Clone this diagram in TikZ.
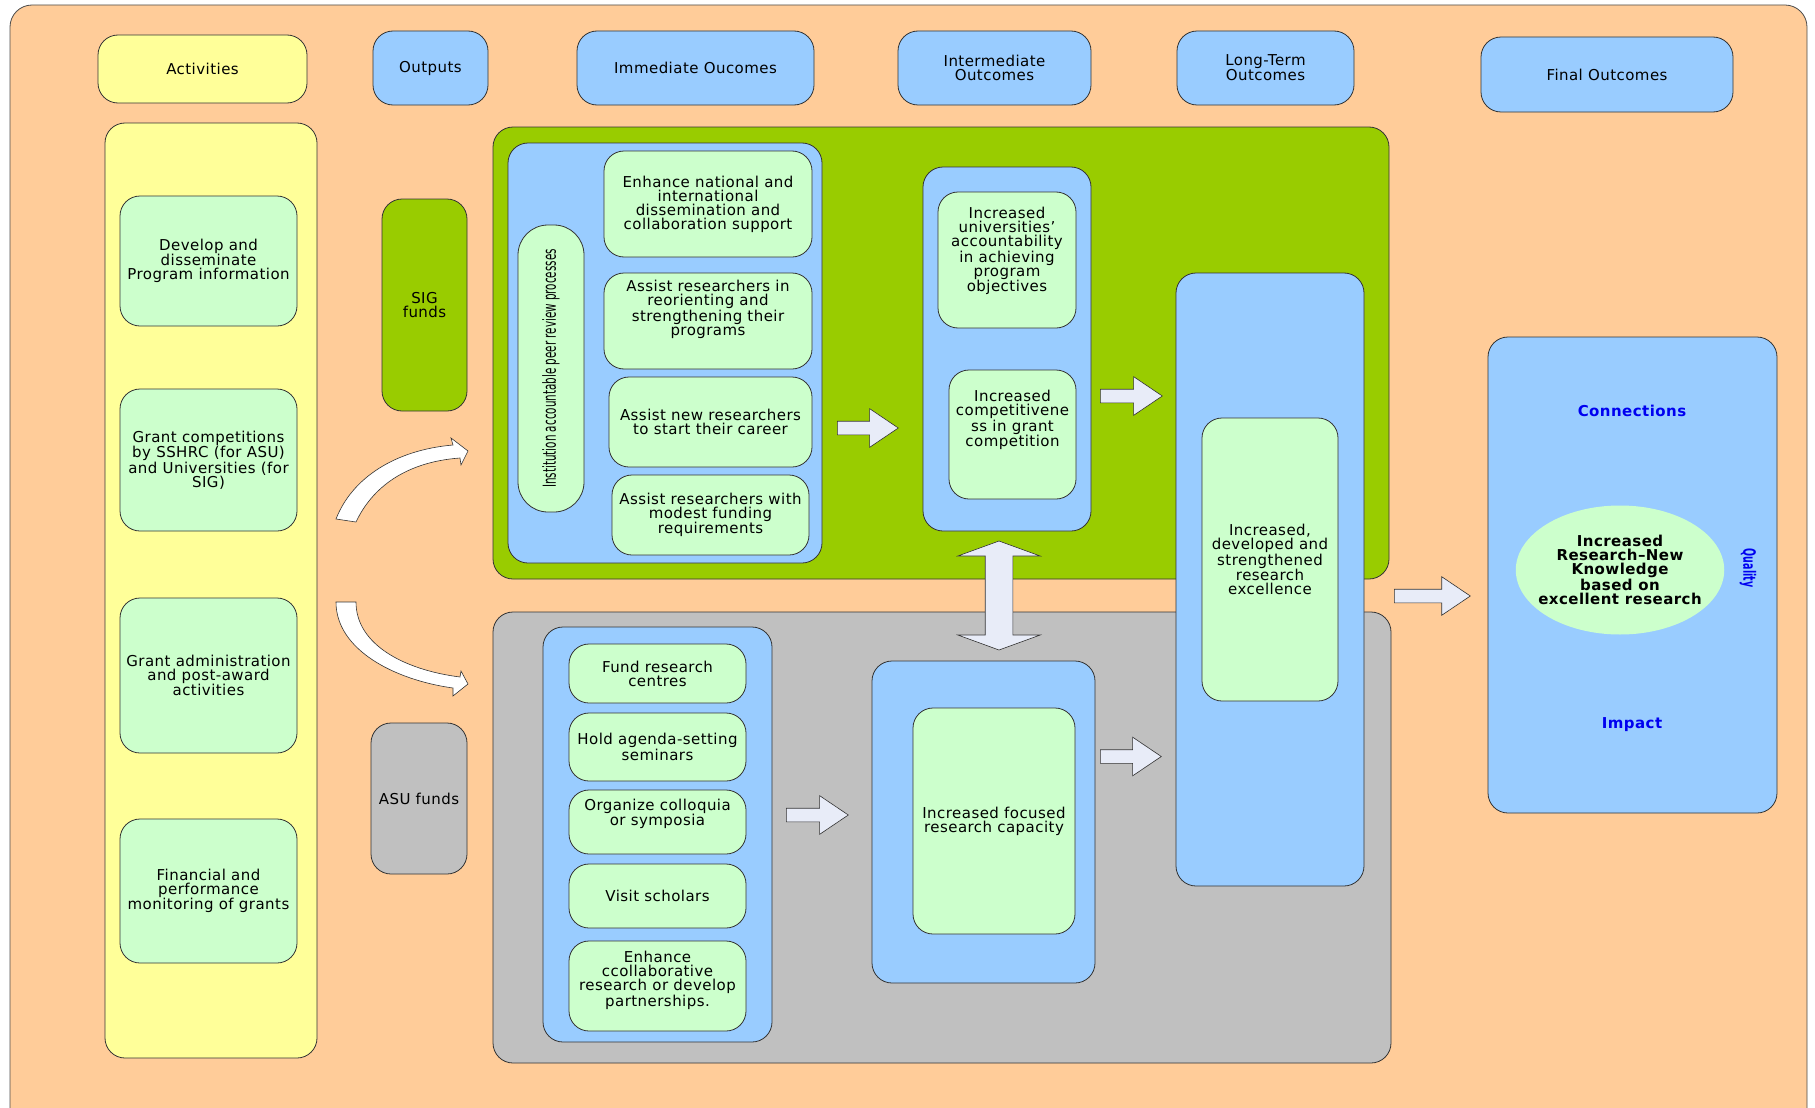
\documentclass[tikz,border=0pt]{standalone}
\usepackage{fontspec}
\setmainfont{DejaVu Sans}[LetterSpace=3]
\newfontfamily\condfont{DejaVu Sans Condensed}
\usetikzlibrary{shapes.geometric,shapes.arrows}

\definecolor{peach}{RGB}{255,204,153}
\definecolor{paleyellow}{RGB}{255,255,153}
\definecolor{palegreen}{RGB}{204,255,204}
\definecolor{skyblue}{RGB}{153,204,255}
\definecolor{sigcolor}{RGB}{153,204,0}
\definecolor{asucolor}{RGB}{192,192,192}
\definecolor{arrowfill}{RGB}{232,236,248}
\definecolor{labelblue}{RGB}{0,0,240}

\begin{document}
\begin{tikzpicture}[x=1pt, y=-1pt,
    every node/.style={font=\fontsize{15}{14}\selectfont, align=center},
    box/.style={draw=black!80, line width=0.8pt, rounded corners=20pt, inner sep=0pt},
    yellowbox/.style={box, fill=paleyellow},
    bluebox/.style={box, fill=skyblue},
    greenbox/.style={box, fill=palegreen},
    sigbox/.style={box, fill=sigcolor},
    asubox/.style={box, fill=asucolor},
    blockarrow/.style={single arrow, draw=black!80, line width=0.6pt, fill=arrowfill,
      minimum width=0pt, inner xsep=0pt, inner ysep=6.5pt,
      single arrow head extend=12.5pt, single arrow tip angle=68, anchor=tail},
    curvearrow/.style={draw=black!80, line width=0.6pt, fill=white},
    bluelabel/.style={text=labelblue, font=\fontsize{15}{14}\selectfont\bfseries}]
  \useasboundingbox (0,0) rectangle (1815,1108);
  \draw[fill=peach, draw=black!70, line width=0.8pt, rounded corners=22pt] (10,5) rectangle (1807,1130);

  % column headers
  \node[yellowbox, minimum width=209pt, minimum height=68pt] (hact) at (202.5,69) {Activities};
  \node[bluebox, minimum width=115pt, minimum height=74pt] (hout) at (430.5,68) {Outputs};
  \node[bluebox, minimum width=237pt, minimum height=74pt] (himm) at (695.5,68) {Immediate Oucomes};
  \node[bluebox, minimum width=193pt, minimum height=74pt] (hint) at (994.5,68) {Intermediate\\Outcomes};
  \node[bluebox, minimum width=177pt, minimum height=74pt] (hlong) at (1265.5,68) {Long-Term\\Outcomes};
  \node[bluebox, minimum width=252pt, minimum height=75pt] (hfin) at (1607,74.5) {Final Outcomes};

  % activities
  \node[yellowbox, minimum width=212pt, minimum height=935pt] (activities) at (211,590.5) {};
  \node[greenbox, minimum width=177pt, minimum height=130pt] (develop) at (208.5,261) {Develop and\\disseminate\\Program information};
  \node[greenbox, minimum width=177pt, minimum height=142pt] (compet) at (208.5,460) {Grant competitions\\by SSHRC (for ASU)\\and Universities (for\\SIG)};
  \node[greenbox, minimum width=177pt, minimum height=155pt] (admin) at (208.5,675.5) {Grant administration\\and post-award\\activities};
  \node[greenbox, minimum width=177pt, minimum height=144pt] (monitor) at (208.5,891) {Financial and\\performance\\monitoring of grants};

  % outputs
  \node[sigbox, minimum width=85pt, minimum height=212pt] (sigfunds) at (424.5,305) {SIG\\funds};
  \node[asubox, minimum width=96pt, minimum height=151pt] (asufunds) at (419,798.5) {ASU funds};

  % SIG panel
  \node[sigbox, minimum width=896pt, minimum height=452pt] (sigpanel) at (941,353) {};
  \node[bluebox, minimum width=314pt, minimum height=420pt] (sigimm) at (665,353) {};
  \node[greenbox, rotate=90, minimum width=287pt, minimum height=66pt, rounded corners=30pt] (peer) at (551,368.5)
    {\scalebox{0.64}[1]{\fontsize{18}{18}\selectfont\condfont Institution accountable peer review processes}};
  \node[greenbox, minimum width=208pt, minimum height=106pt] (enhance) at (708,204) {Enhance national and\\international\\dissemination and\\collaboration support};
  \node[greenbox, minimum width=208pt, minimum height=96pt] (reorient) at (708,321) {Assist researchers in\\reorienting and\\strengthening their\\programs\\[12pt]};
  \node[greenbox, minimum width=203pt, minimum height=90pt] (newres) at (710.5,422) {Assist new researchers\\to start their career};
  \node[greenbox, minimum width=197pt, minimum height=80pt] (modest) at (710.5,515) {Assist researchers with\\modest funding\\requirements};
  \node[bluebox, minimum width=168pt, minimum height=364pt] (sigint) at (1007,349) {};
  \node[greenbox, minimum width=138pt, minimum height=136pt] (account) at (1007,260) {Increased\\universities’\\accountability\\in achieving\\program\\objectives\\[7pt]};
  \node[greenbox, minimum width=127pt, minimum height=129pt] (compete) at (1012.5,434.5) {Increased\\competitivene\\ss in grant\\competition\\[18pt]};

  % ASU panel
  \node[asubox, minimum width=898pt, minimum height=451pt] (asupanel) at (942,837.5) {};
  \node[bluebox, minimum width=229pt, minimum height=415pt] (asuimm) at (657.5,834.5) {};
  \node[greenbox, minimum width=177pt, minimum height=59pt] (centres) at (657.5,673.5) {Fund research\\centres};
  \node[greenbox, minimum width=177pt, minimum height=68pt] (agenda) at (657.5,747) {Hold agenda-setting\\seminars};
  \node[greenbox, minimum width=177pt, minimum height=64pt] (colloq) at (657.5,822) {Organize colloquia\\or symposia\\[5pt]};
  \node[greenbox, minimum width=177pt, minimum height=64pt] (scholars) at (657.5,896) {Visit scholars};
  \node[greenbox, minimum width=177pt, minimum height=90pt] (partner) at (657.5,986) {Enhance\\ccollaborative\\research or develop\\partnerships.\\[0pt]};
  \node[bluebox, minimum width=223pt, minimum height=322pt] (asuint) at (983.5,822) {};
  \node[greenbox, minimum width=162pt, minimum height=226pt] (capacity) at (994,821) {Increased focused\\research capacity};

  % long-term outcome
  \node[bluebox, minimum width=188pt, minimum height=613pt] (longterm) at (1270,579.5) {};
  \node[greenbox, minimum width=136pt, minimum height=283pt] (excel) at (1270,559.5) {Increased,\\developed and\\strengthened\\research\\excellence};

  % final outcome
  \node[bluebox, minimum width=289pt, minimum height=476pt] (final) at (1632.5,575) {};
  \node[ellipse, fill=palegreen, minimum width=204pt, minimum height=129pt, inner sep=-8pt,
    font=\fontsize{15}{14}\selectfont\bfseries] (knowledge) at (1620,570) {Increased\\Research--New\\Knowledge\\based on\\excellent research};
  \node[bluelabel] (connections) at (1632,411) {Connections};
  \node[bluelabel] (impact) at (1632,725) {Impact};
  \node[bluelabel, rotate=-90] (quality) at (1748,568) {\scalebox{0.62}[1]{\fontsize{17}{17}\selectfont\condfont Quality}};

  % arrows
  \draw[curvearrow] (336,519) .. controls (352,478) and (395,450) .. (453,445) -- (451,438) -- (468,451)
    -- (461,465) -- (460,458) .. controls (405,462) and (372,488) .. (356,522) -- cycle;
  \draw[curvearrow] (336,602) .. controls (336,650) and (395,680) .. (453,688) -- (453,696) -- (468,684)
    -- (461,671) -- (460,677) .. controls (405,670) and (356,645) .. (356,602) -- cycle;
  \node[blockarrow, minimum height=61pt] (sigstep) at (837,428) {};
  \node[blockarrow, minimum height=62pt] (sigup) at (1100,396) {};
  \node[blockarrow, minimum height=62pt] (asustep) at (786,815) {};
  \node[blockarrow, minimum height=61pt] (asuup) at (1100,756.5) {};
  \node[blockarrow, minimum height=76pt] (tofinal) at (1394,596) {};
  \node[double arrow, draw=black!80, line width=0.6pt, fill=arrowfill, rotate=90, minimum width=0pt,
    inner xsep=0pt, inner ysep=13.5pt, minimum height=109pt,
    double arrow head extend=27.5pt, double arrow tip angle=140] (link) at (999,595.5) {};
\end{tikzpicture}
\end{document}
